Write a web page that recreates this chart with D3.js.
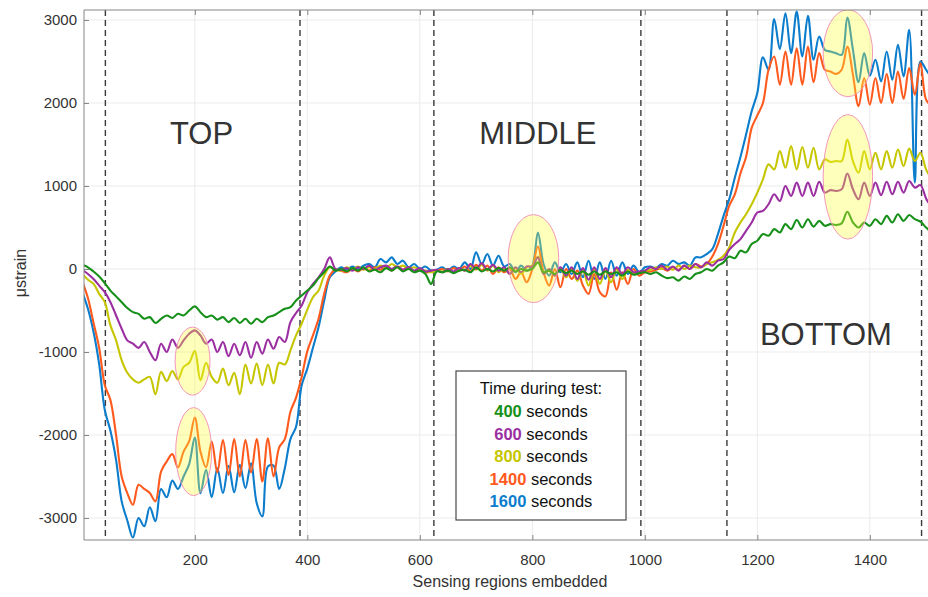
<!DOCTYPE html>
<html>
<head>
<meta charset="utf-8">
<script src="https://cdn.jsdelivr.net/npm/d3@7"></script>
<style>
  html, body { margin: 0; padding: 0; background: #fff; }
  svg { display: block; font-family: "Liberation Sans", Arial, Helvetica, sans-serif; }
</style>
</head>
<body>
<script>
// ---------------- DATA ----------------
// sensing region positions (every 10th region)
const positions = d3.range(0, 1520, 10);

const seriesNames = ["400", "600", "800", "1400", "1600"];
const seriesColors = ["#17901a", "#9b2fa1", "#c6c600", "#ff5a1e", "#0b7dcc"];

const s400 = [
  50, 20, -30, -90, -170, -260, -330, -400, -470, -520,
  -540, -600, -580, -650, -600, -560, -590, -540, -560, -500,
  -450, -520, -580, -560, -610, -580, -640, -590, -650, -600,
  -660, -600, -640, -580, -560, -520, -480, -460, -380, -320,
  -260, -200, -110, -40, 30, -20, 0, -30, 10, -20,
  20, -30, -10, -40, 10, -20, 20, -30, 0, -40,
  -20, -60, -180, -30, -40, -20, -50, -20, -10, -40,
  20, -30, 0, -30, 10, -20, 20, -30, 0, -20,
  0, 80, -40, -20, -60, -10, -50, -20, -60, -30,
  -70, -30, -70, -30, -60, -40, -80, -30, -70, -50,
  -40, -60, -40, -80, -110, -100, -140, -90, -120, -60,
  -40, 0, -20, 40, 80, 150, 130, 220, 200, 300,
  340, 420, 400, 480, 440, 540, 480, 590, 500, 600,
  510, 580, 520, 540, 530, 550, 690, 560, 500, 560,
  520, 600, 540, 640, 560, 660, 580, 650, 600, 570,
  500, 440
];

const s600 = [
  -10, -60, -120, -200, -280, -400, -560, -720, -860, -900,
  -950, -880, -1000, -1100, -900, -1000, -850, -950, -860, -780,
  -740, -800, -900, -850, -1000, -880, -1050, -900, -1040, -880,
  -1070, -880, -1020, -850, -960, -820, -880, -640, -530, -440,
  -280, -180, -100, 0, 140, 0, -10, 10, -20, 20,
  0, 40, -10, 20, 40, 0, 30, -10, 20, -20,
  10, -30, -20, -10, -40, 0, -30, 10, -20, 60,
  0, 70, -10, 50, -20, 20, -60, 20, -40, 30,
  30, 140, -60, 0, -80, 20, -80, 20, -120, 10,
  -130, 20, -120, 10, -100, 20, -60, 20, -40, -30,
  -20, 20, 0, 40, -10, 30, -20, 40, 0, 60,
  20, 80, 40, 100, 120, 230, 300, 360, 460, 560,
  680, 700, 780, 900, 820, 1000, 880, 1040, 880, 1040,
  880, 1050, 920, 950, 940, 960, 1150, 960, 840, 1040,
  880, 1040, 890, 1050, 900, 1050, 920, 1060, 980, 1010,
  850, 740
];

const s800 = [
  -60, -130, -180, -300, -400, -680, -860, -1100, -1250, -1330,
  -1370, -1330, -1300, -1510, -1240, -1350, -1230, -1330, -1180, -1130,
  -990, -1340, -1130, -1300, -1370, -1200, -1400, -1250, -1510, -1150,
  -1380, -1140, -1400, -1150, -1380, -1130, -1150, -980, -800, -660,
  -490, -340, -260, -80, 20, -10, -20, 20, -10, 30,
  -10, 20, 0, 40, 10, 60, 20, 40, 0, 20,
  -10, -20, -40, -20, -30, 0, -40, 10, -20, 40,
  -10, 50, -20, 40, -40, 10, -60, 10, -60, 20,
  40, 150, -40, -20, -80, 0, -100, 0, -140, -20,
  -200, 0, -180, -20, -160, 0, -120, -10, -60, -40,
  -20, -10, 20, 0, 30, -10, 40, 0, 40, 20,
  20, 60, 80, 110, 160, 260, 440, 560, 660, 780,
  920, 1080, 1260, 1200, 1420, 1220, 1480, 1200, 1470, 1220,
  1460, 1200, 1320, 1290, 1300, 1300, 1560, 1300, 1160, 1420,
  1200, 1400, 1200, 1420, 1220, 1440, 1240, 1450, 1300, 1400,
  1200, 1080
];

const s1400 = [
  -150, -350, -650, -950, -1400, -1580, -2000, -2500, -2700, -2840,
  -2600, -2650, -2700, -2800, -2440, -2320, -2230, -2390, -2200, -2075,
  -1790, -2200, -2390, -2080, -2450, -2060, -2480, -2050, -2500, -2060,
  -2450, -2050, -2560, -2040, -2500, -2150, -2050, -1720, -1550, -1300,
  -990, -800, -600, -300, -80, -10, -20, -40, 0, -30,
  10, -20, 20, -10, 30, -20, 30, -10, 20, -30,
  -10, -40, -30, -20, 0, -30, 10, -20, 30, -30,
  50, -20, 40, -60, 20, -40, 0, -120, -40, -160,
  0, 270, -40, -200, 0, -220, 0, -120, -20, -200,
  -300, -60, -280, -330, -40, -250, -40, -180, 0, -80,
  -40, -30, -10, 10, -20, 20, -10, 40, 0, 60,
  30, 60, 150, 300, 520, 760, 900, 1150, 1350, 1700,
  1850, 2000, 2400, 2560, 2220, 2620, 2220, 2660, 2220, 2680,
  2250, 2600, 2400, 2380, 2350, 2400, 2680, 2340, 1960, 2300,
  1980, 2300, 2000, 2350, 2000, 2380, 2050, 2420, 2100, 2480,
  2040, 1960
];

const s1600 = [
  -280, -480, -760, -1150, -1700, -1950, -2300, -2800, -3030, -3235,
  -3000, -3100, -2870, -3040, -2650, -2750, -2550, -2650, -2500, -2350,
  -2030, -2700, -2420, -2750, -2400, -2700, -2370, -2690, -2360, -2640,
  -2340, -2820, -2980, -2380, -2370, -2650, -2400, -2050, -1900, -1400,
  -1200, -950, -700, -380, -100, -30, 20, -10, 30, 0,
  40, 60, 20, 120, 80, 140, 60, 100, 20, 60,
  0, 30, -20, -10, 20, -20, 30, 0, 80, 0,
  200, 60, 180, 40, 160, 30, 60, -40, 40, -20,
  40, 440, 60, -80, 80, -40, 60, -60, 80, -100,
  100, -120, 80, -120, 100, -80, 80, -60, 40, -40,
  20, 30, 10, 60, 40, 100, 60, 80, 40, 140,
  140, 180, 240, 420, 640, 840, 1100, 1350, 1620, 1900,
  2120, 2550, 2400, 3010, 2650, 3080, 2600, 3100, 2560, 3050,
  2520, 2800, 2640, 2620, 2600, 2580, 3030, 2640, 2250, 2600,
  2330, 2520, 2260, 2620, 2280, 2700, 2320, 2880, 1040, 2500,
  2400, 2300
];

const xTicks = [200, 400, 600, 800, 1000, 1200, 1400];
const yTicks = [-3000, -2000, -1000, 0, 1000, 2000, 3000];
const dividers = [41, 387, 625, 993, 1146, 1492];
const regionLabels = ["TOP", "MIDDLE", "BOTTOM"];
const regionLabelX = [212, 810, 1322];
const regionLabelY = [1500, 1500, -920];
const highlightCx = [196, 198, 802, 1361, 1361];
const highlightCy = [-1110, -2200, 125, 2600, 1110];
const highlightRx = [31, 32, 45, 44, 44];
const highlightRy = [410, 530, 530, 524, 750];
const legendTitle = "Time during test:";

// ---------------- CHART ----------------
const W = 928, H = 597;
const svg = d3.select("body").append("svg").attr("width", W).attr("height", H);

const x = d3.scaleLinear().domain([3, 1520]).range([84, 84 + (1520 - 3) * 0.5625]);
const y = d3.scaleLinear().domain([-3265, 3120]).range([540, 10]);

const plotL = 84, plotR = W, plotT = 10, plotB = 540;

svg.append("defs").append("clipPath").attr("id", "plotclip")
  .append("rect").attr("x", plotL).attr("y", plotT).attr("width", plotR - plotL).attr("height", plotB - plotT);

// grid
const grid = svg.append("g");
grid.selectAll(".gx").data(xTicks).join("line")
  .attr("x1", d => x(d)).attr("x2", d => x(d)).attr("y1", plotT).attr("y2", plotB)
  .attr("stroke", "#ebebeb").attr("stroke-width", 1);
grid.selectAll(".gy").data(yTicks).join("line")
  .attr("x1", plotL).attr("x2", plotR).attr("y1", d => y(d)).attr("y2", d => y(d))
  .attr("stroke", "#ebebeb").attr("stroke-width", 1);

// region dividers
svg.append("g").selectAll("line").data(dividers).join("line")
  .attr("x1", d => x(d)).attr("x2", d => x(d)).attr("y1", plotT).attr("y2", plotB)
  .attr("stroke", "#3a3a3a").attr("stroke-width", 1.4).attr("stroke-dasharray", "6,4");

// region labels
svg.append("g").selectAll("text").data(regionLabels).join("text")
  .attr("x", (d, i) => x(regionLabelX[i])).attr("y", (d, i) => y(regionLabelY[i]))
  .attr("text-anchor", "middle").attr("font-size", 31).attr("fill", "#333")
  .text(d => d);

// lines
const allSeries = [s400, s600, s800, s1400, s1600];
const line = d3.line()
  .defined(d => d[1] !== null)
  .curve(d3.curveCatmullRom.alpha(0.5))
  .x(d => x(d[0])).y(d => y(d[1]));
const drawOrder = [4, 3, 2, 1, 0];
const lines = svg.append("g").attr("clip-path", "url(#plotclip)");
drawOrder.forEach(i => {
  lines.append("path")
    .datum(positions.map((p, k) => [p, allSeries[i][k]]))
    .attr("fill", "none").attr("stroke", seriesColors[i])
    .attr("stroke-width", 2.1).attr("stroke-linejoin", "round")
    .attr("d", line);
});

// highlight ellipses
svg.append("g").attr("clip-path", "url(#plotclip)")
  .selectAll("ellipse").data(highlightCx).join("ellipse")
  .attr("cx", d => x(d)).attr("cy", (d, i) => y(highlightCy[i]))
  .attr("rx", (d, i) => x(d + highlightRx[i]) - x(d))
  .attr("ry", (d, i) => y(0) - y(highlightRy[i]))
  .attr("fill", "#ffff33").attr("fill-opacity", 0.33)
  .attr("stroke", "#f08ab8").attr("stroke-width", 0.9);

// axes box
const axisColor = "#858585";
svg.append("line").attr("x1", plotL).attr("x2", plotR).attr("y1", plotB).attr("y2", plotB).attr("stroke", axisColor);
svg.append("line").attr("x1", plotL).attr("x2", plotR).attr("y1", plotT).attr("y2", plotT).attr("stroke", axisColor);
svg.append("line").attr("x1", plotL).attr("x2", plotL).attr("y1", plotT).attr("y2", plotB).attr("stroke", axisColor);

const plainFmt = d => String(d);
const xAxis = svg.append("g").attr("transform", `translate(0,${plotB})`)
  .call(d3.axisBottom(x).tickValues(xTicks).tickSize(-5).tickPadding(14).tickFormat(plainFmt));
const xTop = svg.append("g").attr("transform", `translate(0,${plotT})`)
  .call(d3.axisTop(x).tickValues(xTicks).tickSize(-5).tickFormat(""));
const yAxis = svg.append("g").attr("transform", `translate(${plotL},0)`)
  .call(d3.axisLeft(y).tickValues(yTicks).tickSize(-5).tickPadding(7).tickFormat(plainFmt));
[xAxis, xTop, yAxis].forEach(g => {
  g.select(".domain").remove();
  g.selectAll(".tick line").attr("stroke", axisColor);
  g.selectAll(".tick text").attr("fill", "#333").attr("font-size", 15)
    .attr("font-family", "'Liberation Sans', Arial, sans-serif");
});

// axis titles
svg.append("text").attr("x", 510).attr("y", 587).attr("text-anchor", "middle")
  .attr("font-size", 16).attr("fill", "#333").text("Sensing regions embedded");
svg.append("text").attr("transform", "translate(26,273) rotate(-90)").attr("text-anchor", "middle")
  .attr("font-size", 16).attr("fill", "#333").text("μstrain");

// legend
const lg = svg.append("g");
lg.append("rect").attr("x", 456).attr("y", 371).attr("width", 170).attr("height", 149)
  .attr("fill", "#fff").attr("stroke", "#4a4a4a").attr("stroke-width", 1.2);
lg.append("text").attr("x", 541).attr("y", 394).attr("text-anchor", "middle")
  .attr("font-size", 16.5).attr("fill", "#111").text(legendTitle);
seriesNames.forEach((n, i) => {
  const t = lg.append("text").attr("x", 541).attr("y", 417 + i * 22.5)
    .attr("text-anchor", "middle").attr("font-size", 16.5);
  t.append("tspan").attr("font-weight", "bold").attr("fill", seriesColors[i]).text(n);
  t.append("tspan").attr("fill", "#111").text(" seconds");
});
</script>
</body>
</html>
